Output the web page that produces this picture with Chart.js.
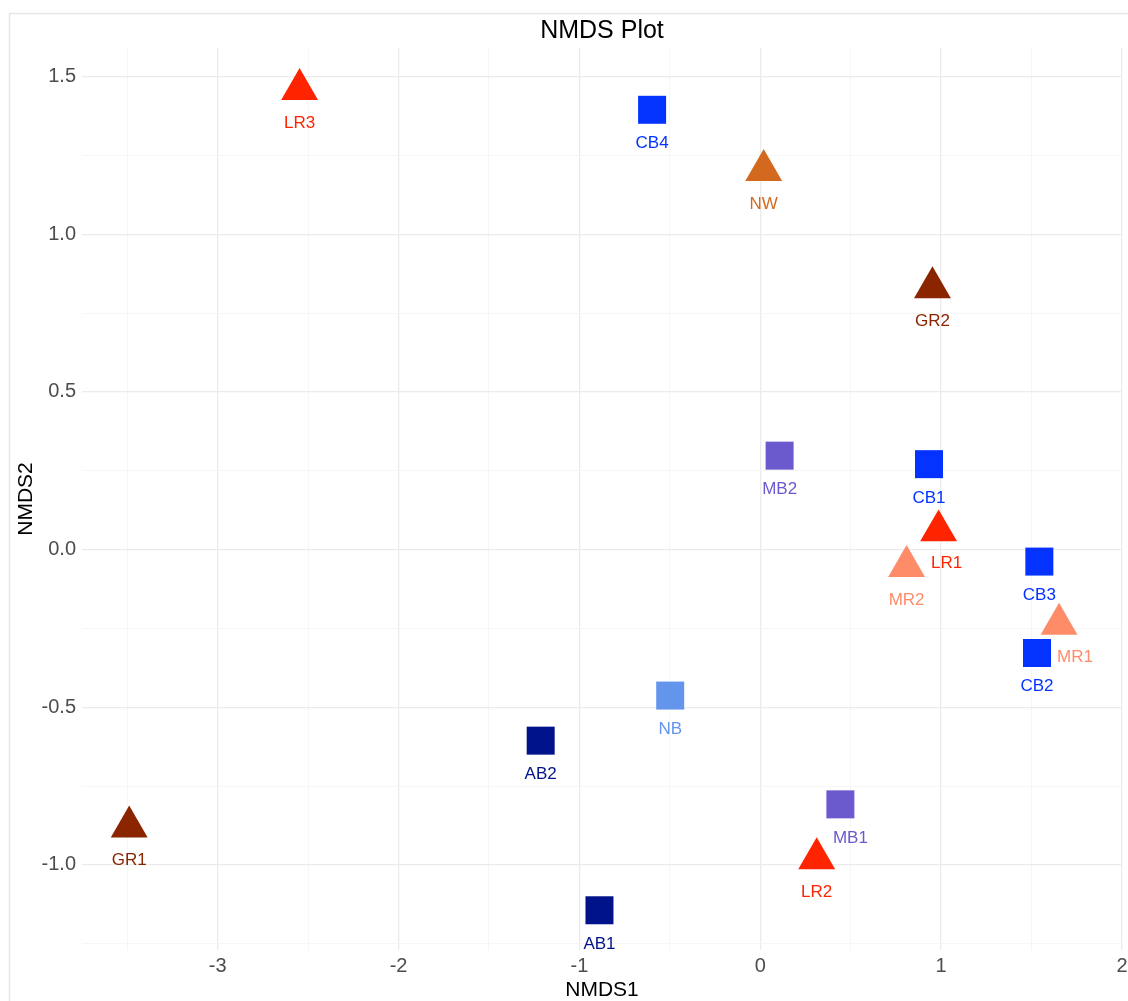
<!DOCTYPE html>
<html>
<head>
<meta charset="utf-8">
<title>NMDS Plot</title>
<script src="https://cdn.jsdelivr.net/npm/chart.js@4/dist/chart.umd.min.js"></script>
<style>
  html, body { margin: 0; padding: 0; background: #ffffff; overflow: hidden; }
  #wrap { width: 1128px; height: 1001px; position: relative; }
  canvas { display: block; }
</style>
</head>
<body>
<div id="wrap"><canvas id="nmds" width="1128" height="1001"></canvas></div>
<script>
// Sample ordination scores
const sampleNames = ['LR3', 'CB4', 'NW', 'GR2', 'MB2', 'CB1', 'LR1', 'MR2', 'CB3', 'MR1', 'CB2', 'NB', 'AB2', 'GR1', 'MB1', 'LR2', 'AB1'];
const sampleGroups = ['LR', 'CB', 'NW', 'GR', 'MB', 'CB', 'LR', 'MR', 'CB', 'MR', 'CB', 'NB', 'AB', 'GR', 'MB', 'LR', 'AB'];
const nmds1 = [-2.547, -0.598, 0.019, 0.952, 0.107, 0.933, 0.986, 0.809, 1.543, 1.652, 1.530, -0.498, -1.214, -3.489, 0.443, 0.312, -0.889];
const nmds2 = [1.460, 1.395, 1.203, 0.831, 0.298, 0.271, 0.060, -0.053, -0.038, -0.236, -0.328, -0.463, -0.606, -0.879, -0.808, -0.980, -1.144];

// Axis ticks
const xMajorTicks = [-3, -2, -1, 0, 1, 2];
const xMinorTicks = [-3.5, -2.5, -1.5, -0.5, 0.5, 1.5];
const yMajorTicks = [-1.0, -0.5, 0.0, 0.5, 1.0, 1.5];
const yMinorTicks = [-1.25, -0.75, -0.25, 0.25, 0.75, 1.25];

// Group styling
const groupColors = {
  LR: '#FF2400', MR: '#FF8C69', GR: '#8B2500', NW: '#D2691E',
  CB: '#0433FF', MB: '#6A5ACD', NB: '#6495ED', AB: '#00138B'
};
const groupShapes = {
  LR: 'triangle', MR: 'triangle', GR: 'triangle', NW: 'triangle',
  CB: 'rect', MB: 'rect', NB: 'rect', AB: 'rect'
};
// Label placement (pixels from the marker centre)
const labelShift = { LR1: [8, 33], MR1: [16, 33], MB1: [10, 34] };
const defaultShift = [0, 33.7];

const FONT = '"Liberation Sans", Arial, Helvetica, sans-serif';

const points = nmds1.map((x, i) => ({ x: x, y: nmds2[i] }));
const colors = sampleGroups.map(g => groupColors[g]);
const shapes = sampleGroups.map(g => groupShapes[g]);
const radii = shapes.map(s => s === 'triangle' ? 21.3 : 19.8);

function isMajor(v, majors) {
  return majors.some(m => Math.abs(m - v) < 1e-9);
}

function noLabelPadding(scale) {
  scale.paddingLeft = 0;
  scale.paddingRight = 0;
  scale.paddingTop = 0;
  scale.paddingBottom = 0;
}

const decorPlugin = {
  id: 'decor',
  beforeDraw(chart) {
    const ctx = chart.ctx;
    ctx.save();
    ctx.fillStyle = '#ffffff';
    ctx.fillRect(0, 0, chart.width, chart.height);
    ctx.strokeStyle = '#e6e6e6';
    ctx.lineWidth = 1.5;
    ctx.strokeRect(9.5, 13.5, chart.width + 50, chart.height + 50);
    ctx.restore();
  },
  afterDatasetsDraw(chart) {
    const ctx = chart.ctx;
    const meta = chart.getDatasetMeta(0);
    ctx.save();
    ctx.font = '17px ' + FONT;
    ctx.textAlign = 'center';
    ctx.textBaseline = 'middle';
    meta.data.forEach((pt, i) => {
      const name = sampleNames[i];
      const s = labelShift[name] || defaultShift;
      ctx.fillStyle = colors[i];
      ctx.fillText(name, pt.x + s[0], pt.y + s[1]);
    });
    ctx.restore();
  },
  afterDraw(chart) {
    const ctx = chart.ctx;
    const area = chart.chartArea;
    const cx = (area.left + area.right) / 2;
    const cy = (area.top + area.bottom) / 2;
    ctx.save();
    ctx.fillStyle = '#000000';
    ctx.textAlign = 'center';
    ctx.textBaseline = 'alphabetic';
    ctx.font = '25px ' + FONT;
    ctx.fillText('NMDS Plot', cx, 37.5);
    ctx.font = '21px ' + FONT;
    ctx.fillText('NMDS1', cx, 996);
    ctx.translate(31.5, cy);
    ctx.rotate(-Math.PI / 2);
    ctx.fillText('NMDS2', 0, 0);
    ctx.restore();
  }
};

new Chart(document.getElementById('nmds'), {
  type: 'scatter',
  data: {
    datasets: [{
      label: 'samples',
      data: points,
      pointStyle: shapes,
      pointRadius: radii,
      pointHoverRadius: radii,
      backgroundColor: colors,
      borderColor: colors,
      borderWidth: 0
    }]
  },
  options: {
    responsive: false,
    animation: false,
    devicePixelRatio: 1,
    layout: { autoPadding: false, padding: { top: 48, right: 6, bottom: 0, left: 0 } },
    plugins: {
      legend: { display: false },
      title: { display: false },
      tooltip: { enabled: false }
    },
    scales: {
      x: {
        type: 'linear',
        min: -3.75,
        max: 2.0,
        afterBuildTicks(scale) {
          scale.ticks = xMinorTicks.concat(xMajorTicks).sort((a, b) => a - b).map(v => ({ value: v }));
        },
        afterFit(scale) { scale.height = 51; noLabelPadding(scale); },
        border: { display: false },
        grid: {
          drawTicks: false,
          color: c => isMajor(c.tick.value, xMajorTicks) ? '#ebebeb' : '#f4f4f4',
          lineWidth: c => isMajor(c.tick.value, xMajorTicks) ? 1.3 : 0.8
        },
        ticks: {
          autoSkip: false,
          maxRotation: 0,
          padding: 4,
          color: '#4d4d4d',
          font: { family: FONT, size: 20 },
          callback: v => isMajor(v, xMajorTicks) ? String(v) : ''
        }
      },
      y: {
        type: 'linear',
        min: -1.270,
        max: 1.591,
        afterBuildTicks(scale) {
          scale.ticks = yMinorTicks.concat(yMajorTicks).sort((a, b) => a - b).map(v => ({ value: v }));
        },
        afterFit(scale) { scale.width = 82; noLabelPadding(scale); },
        border: { display: false },
        grid: {
          drawTicks: false,
          color: c => isMajor(c.tick.value, yMajorTicks) ? '#ebebeb' : '#f4f4f4',
          lineWidth: c => isMajor(c.tick.value, yMajorTicks) ? 1.3 : 0.8
        },
        ticks: {
          autoSkip: false,
          padding: 6,
          color: '#4d4d4d',
          font: { family: FONT, size: 20 },
          callback: v => isMajor(v, yMajorTicks) ? v.toFixed(1) : ''
        }
      }
    }
  },
  plugins: [decorPlugin]
});
</script>
</body>
</html>
